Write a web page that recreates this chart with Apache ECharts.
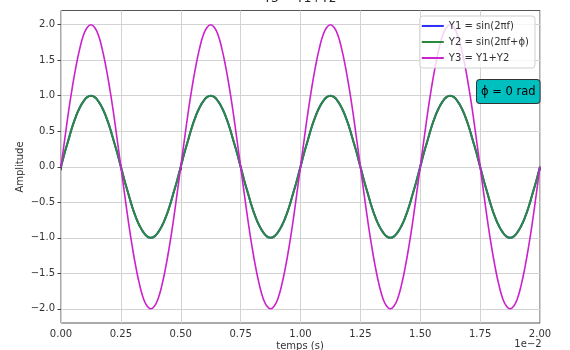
<!DOCTYPE html>
<html>
<head>
<meta charset="utf-8">
<script src="https://cdn.jsdelivr.net/npm/echarts@6/dist/echarts.min.js"></script>
<style>html,body{margin:0;padding:0;background:#fff}#c{width:570px;height:350px}</style>
</head>
<body>
<div id="c"></div>
<script>
// time in units of 1e-2 s
var times = [
0,0.015625,0.03125,0.046875,0.0625,0.078125,0.09375,0.109375,0.125,0.140625,0.15625,0.171875,0.1875,0.203125,0.21875,0.234375,
0.25,0.265625,0.28125,0.296875,0.3125,0.328125,0.34375,0.359375,0.375,0.390625,0.40625,0.421875,0.4375,0.453125,0.46875,0.484375,
0.5,0.515625,0.53125,0.546875,0.5625,0.578125,0.59375,0.609375,0.625,0.640625,0.65625,0.671875,0.6875,0.703125,0.71875,0.734375,
0.75,0.765625,0.78125,0.796875,0.8125,0.828125,0.84375,0.859375,0.875,0.890625,0.90625,0.921875,0.9375,0.953125,0.96875,0.984375,
1,1.015625,1.03125,1.046875,1.0625,1.078125,1.09375,1.109375,1.125,1.140625,1.15625,1.171875,1.1875,1.203125,1.21875,1.234375,
1.25,1.265625,1.28125,1.296875,1.3125,1.328125,1.34375,1.359375,1.375,1.390625,1.40625,1.421875,1.4375,1.453125,1.46875,1.484375,
1.5,1.515625,1.53125,1.546875,1.5625,1.578125,1.59375,1.609375,1.625,1.640625,1.65625,1.671875,1.6875,1.703125,1.71875,1.734375,
1.75,1.765625,1.78125,1.796875,1.8125,1.828125,1.84375,1.859375,1.875,1.890625,1.90625,1.921875,1.9375,1.953125,1.96875,1.984375,
2];
var y1 = [
0,0.2,0.38,0.56,0.71,0.83,0.92,0.98,1,0.98,0.92,0.83,0.71,0.56,0.38,0.2,0,-0.2,-0.38,-0.56,-0.71,-0.83,-0.92,-0.98,-1,-0.98,-0.92,-0.83,-0.71,-0.56,-0.38,-0.2,
0,0.2,0.38,0.56,0.71,0.83,0.92,0.98,1,0.98,0.92,0.83,0.71,0.56,0.38,0.2,0,-0.2,-0.38,-0.56,-0.71,-0.83,-0.92,-0.98,-1,-0.98,-0.92,-0.83,-0.71,-0.56,-0.38,-0.2,
0,0.2,0.38,0.56,0.71,0.83,0.92,0.98,1,0.98,0.92,0.83,0.71,0.56,0.38,0.2,0,-0.2,-0.38,-0.56,-0.71,-0.83,-0.92,-0.98,-1,-0.98,-0.92,-0.83,-0.71,-0.56,-0.38,-0.2,
0,0.2,0.38,0.56,0.71,0.83,0.92,0.98,1,0.98,0.92,0.83,0.71,0.56,0.38,0.2,0,-0.2,-0.38,-0.56,-0.71,-0.83,-0.92,-0.98,-1,-0.98,-0.92,-0.83,-0.71,-0.56,-0.38,-0.2,
0];
var y2 = [
0,0.2,0.38,0.56,0.71,0.83,0.92,0.98,1,0.98,0.92,0.83,0.71,0.56,0.38,0.2,0,-0.2,-0.38,-0.56,-0.71,-0.83,-0.92,-0.98,-1,-0.98,-0.92,-0.83,-0.71,-0.56,-0.38,-0.2,
0,0.2,0.38,0.56,0.71,0.83,0.92,0.98,1,0.98,0.92,0.83,0.71,0.56,0.38,0.2,0,-0.2,-0.38,-0.56,-0.71,-0.83,-0.92,-0.98,-1,-0.98,-0.92,-0.83,-0.71,-0.56,-0.38,-0.2,
0,0.2,0.38,0.56,0.71,0.83,0.92,0.98,1,0.98,0.92,0.83,0.71,0.56,0.38,0.2,0,-0.2,-0.38,-0.56,-0.71,-0.83,-0.92,-0.98,-1,-0.98,-0.92,-0.83,-0.71,-0.56,-0.38,-0.2,
0,0.2,0.38,0.56,0.71,0.83,0.92,0.98,1,0.98,0.92,0.83,0.71,0.56,0.38,0.2,0,-0.2,-0.38,-0.56,-0.71,-0.83,-0.92,-0.98,-1,-0.98,-0.92,-0.83,-0.71,-0.56,-0.38,-0.2,
0];
var y3 = [
0,0.39,0.77,1.11,1.41,1.66,1.85,1.96,2,1.96,1.85,1.66,1.41,1.11,0.77,0.39,0,-0.39,-0.77,-1.11,-1.41,-1.66,-1.85,-1.96,-2,-1.96,-1.85,-1.66,-1.41,-1.11,-0.77,-0.39,
0,0.39,0.77,1.11,1.41,1.66,1.85,1.96,2,1.96,1.85,1.66,1.41,1.11,0.77,0.39,0,-0.39,-0.77,-1.11,-1.41,-1.66,-1.85,-1.96,-2,-1.96,-1.85,-1.66,-1.41,-1.11,-0.77,-0.39,
0,0.39,0.77,1.11,1.41,1.66,1.85,1.96,2,1.96,1.85,1.66,1.41,1.11,0.77,0.39,0,-0.39,-0.77,-1.11,-1.41,-1.66,-1.85,-1.96,-2,-1.96,-1.85,-1.66,-1.41,-1.11,-0.77,-0.39,
0,0.39,0.77,1.11,1.41,1.66,1.85,1.96,2,1.96,1.85,1.66,1.41,1.11,0.77,0.39,0,-0.39,-0.77,-1.11,-1.41,-1.66,-1.85,-1.96,-2,-1.96,-1.85,-1.66,-1.41,-1.11,-0.77,-0.39,
0];
var yTicks = [-2,-1.5,-1,-0.5,0,0.5,1,1.5,2];
var seriesNames = ['Y1 = sin(2πf)', 'Y2 = sin(2πf+ϕ)', 'Y3 = Y1+Y2'];
var titleText = 'Y3 = Y1+Y2';
var phiText = 'ϕ = 0 rad';

function pairs(ys){ return times.map(function(t,i){ return [t, ys[i]]; }); }
var font = 'DejaVu Sans';
var chart = echarts.init(document.getElementById('c'), null, {renderer:'canvas'});
chart.setOption({
  animation:false,
  textStyle:{fontFamily:font},
  grid:{left:61, right:30, top:10.5, bottom:27, show:true, borderColor:'#555', borderWidth:1, backgroundColor:'transparent'},
  xAxis:{type:'value', min:0, max:2, interval:0.25,
    axisLine:{show:false},
    axisTick:{show:true, length:3.5, lineStyle:{color:'#444'}},
    axisLabel:{fontSize:10, color:'#333', margin:6, formatter:function(v){return v.toFixed(2);}},
    splitLine:{show:true, lineStyle:{color:'#d3d3d3', width:1}}
  },
  yAxis:{type:'value', min:-2.2, max:2.2,
    axisLine:{show:false},
    axisTick:{show:true, length:3.5, customValues:yTicks, lineStyle:{color:'#444'}},
    axisLabel:{fontSize:10, color:'#333', margin:6, customValues:yTicks, formatter:function(v){return (v<0?'\u2212':'')+Math.abs(v).toFixed(1);}},
    splitLine:{show:true, lineStyle:{color:'#d3d3d3', width:1}}
  },
  legend:{orient:'vertical', right:35, top:16, icon:'rect', itemWidth:22, itemHeight:2, itemGap:6, itemStyle:{borderWidth:0},
    backgroundColor:'rgba(255,255,255,0.8)', borderColor:'#d0d0d0', borderWidth:1, borderRadius:3, padding:[5,6,5,2],
    textStyle:{fontSize:10, color:'#333', fontFamily:font},
    data:seriesNames},
  series:[
    {name:seriesNames[0], type:'line', data:pairs(y1), smooth:true, showSymbol:false, color:'#3030ff', lineStyle:{width:2, color:'#3030ff'}},
    {name:seriesNames[1], type:'line', data:pairs(y2), smooth:true, showSymbol:false, color:'#2a8a3a', lineStyle:{width:2, color:'#2a8a3a'}},
    {name:seriesNames[2], type:'line', data:pairs(y3), smooth:true, showSymbol:false, color:'#cc22cc', lineStyle:{width:1.6, color:'#cc22cc'}}
  ],
  graphic:[
    {type:'text', x:300, y:-1, style:{text:titleText, font:'12px '+font, fill:'#222', textAlign:'center', textVerticalAlign:'middle'}},
    {type:'text', x:20, y:167, rotation:Math.PI/2, style:{text:'Amplitude', font:'10px '+font, fill:'#333', textAlign:'center', textVerticalAlign:'middle'}},
    {type:'text', x:300, y:346, style:{text:'temps (s)', font:'10px '+font, fill:'#333', textAlign:'center', textVerticalAlign:'middle'}},
    {type:'text', x:528, y:344, style:{text:'1e\u22122', font:'10px '+font, fill:'#333', textAlign:'center', textVerticalAlign:'middle'}},
    {type:'text', x:477, y:80, z:10, style:{text:phiText, font:'11.5px '+font, fill:'#000', backgroundColor:'#00bfbf', borderColor:'#333', borderWidth:1, borderRadius:3, padding:[6,4,5,4]}}
  ]
});
</script>
</body>
</html>
